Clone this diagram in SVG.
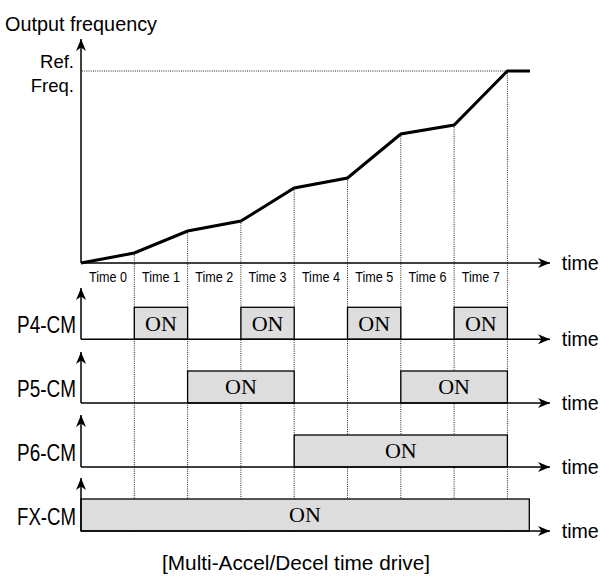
<svg xmlns="http://www.w3.org/2000/svg" width="600" height="582" viewBox="0 0 600 582">
<style>
.ax{stroke:#000;stroke-width:1.5;fill:none}
.dot{stroke:#222;stroke-width:1;stroke-dasharray:1,1.2;fill:none}
.box{fill:#dddddd;stroke:#000;stroke-width:1.3}
.on{font-family:"Liberation Serif","Times New Roman",serif;font-size:22px;fill:#000;text-anchor:middle}
.sans{font-family:"Liberation Sans",Arial,sans-serif;fill:#000}
.tl{font-size:14px;text-anchor:middle}
.sig{font-size:23px;text-anchor:end}
.tm{font-size:21px}
</style>
<defs>
<marker id="arr" markerUnits="userSpaceOnUse" markerWidth="13" markerHeight="11" refX="12" refY="5" orient="auto" viewBox="0 0 13 10">
<path d="M0,0 L12,5 L0,10 L3.5,5 Z" fill="#000"/>
</marker>
</defs>
<rect width="600" height="582" fill="#fff"/>
<g id="guides">
<line class="dot" x1="82" y1="71" x2="507" y2="71"/>
<line class="dot" x1="134.3" y1="253" x2="134.3" y2="532"/>
<line class="dot" x1="187.6" y1="231" x2="187.6" y2="532"/>
<line class="dot" x1="240.9" y1="221" x2="240.9" y2="532"/>
<line class="dot" x1="294.2" y1="188" x2="294.2" y2="532"/>
<line class="dot" x1="347.5" y1="178" x2="347.5" y2="532"/>
<line class="dot" x1="400.8" y1="134" x2="400.8" y2="532"/>
<line class="dot" x1="454.1" y1="125" x2="454.1" y2="532"/>
<line class="dot" x1="507.4" y1="71" x2="507.4" y2="532"/>
</g>
<g id="freq-chart">
<text class="sans" x="5" y="30.5" font-size="21" textLength="152" lengthAdjust="spacingAndGlyphs">Output frequency</text>
<text class="sans" x="74" y="68.3" font-size="18.5" text-anchor="end">Ref.</text>
<text class="sans" x="74" y="91.7" font-size="18.5" text-anchor="end">Freq.</text>
<polyline points="81,263 134.3,253 187.6,231 240.9,221 294.2,188 347.5,178 400.8,134 454.1,125 507.4,71 530,71" fill="none" stroke="#000" stroke-width="3" stroke-linejoin="miter"/>
<g class="sans tl">
<text x="108" y="281.7" textLength="38" lengthAdjust="spacingAndGlyphs">Time 0</text>
<text x="161" y="281.7" textLength="38" lengthAdjust="spacingAndGlyphs">Time 1</text>
<text x="214.3" y="281.7" textLength="38" lengthAdjust="spacingAndGlyphs">Time 2</text>
<text x="267.6" y="281.7" textLength="38" lengthAdjust="spacingAndGlyphs">Time 3</text>
<text x="320.9" y="281.7" textLength="38" lengthAdjust="spacingAndGlyphs">Time 4</text>
<text x="374.2" y="281.7" textLength="38" lengthAdjust="spacingAndGlyphs">Time 5</text>
<text x="427.5" y="281.7" textLength="38" lengthAdjust="spacingAndGlyphs">Time 6</text>
<text x="480.8" y="281.7" textLength="38" lengthAdjust="spacingAndGlyphs">Time 7</text>
</g>
</g>
<g id="p4">
<rect class="box" x="134.3" y="307.3" width="53.3" height="32"/>
<rect class="box" x="240.9" y="307.3" width="53.3" height="32"/>
<rect class="box" x="347.5" y="307.3" width="53.3" height="32"/>
<rect class="box" x="454.1" y="307.3" width="53.3" height="32"/>
<text class="on" x="161" y="330.5">ON</text>
<text class="on" x="267.6" y="330.5">ON</text>
<text class="on" x="374.2" y="330.5">ON</text>
<text class="on" x="480.8" y="330.5">ON</text>
<text class="sans sig" x="76" y="333.3" textLength="59" lengthAdjust="spacingAndGlyphs">P4-CM</text>
</g>
<g id="p5">
<rect class="box" x="187.6" y="371" width="106.6" height="32"/>
<rect class="box" x="400.8" y="371" width="106.6" height="32"/>
<text class="on" x="240.9" y="394.2">ON</text>
<text class="on" x="454.1" y="394.2">ON</text>
<text class="sans sig" x="76" y="397.3" textLength="59" lengthAdjust="spacingAndGlyphs">P5-CM</text>
</g>
<g id="p6">
<rect class="box" x="294.2" y="435" width="213.2" height="32"/>
<text class="on" x="400.8" y="458.2">ON</text>
<text class="sans sig" x="76" y="461.3" textLength="59" lengthAdjust="spacingAndGlyphs">P6-CM</text>
</g>
<g id="fx">
<rect class="box" x="81" y="499" width="448.3" height="32"/>
<text class="on" x="305" y="522.2">ON</text>
<text class="sans sig" x="76" y="525.3" textLength="59" lengthAdjust="spacingAndGlyphs">FX-CM</text>
</g>
<g id="axes">
<path class="ax" d="M81,263 V39" marker-end="url(#arr)"/>
<path class="ax" d="M81,263 H550" marker-end="url(#arr)"/>
<path class="ax" d="M81,339.3 V288" marker-end="url(#arr)"/>
<path class="ax" d="M81,339.3 H550" marker-end="url(#arr)"/>
<path class="ax" d="M81,403 V352" marker-end="url(#arr)"/>
<path class="ax" d="M81,403 H550" marker-end="url(#arr)"/>
<path class="ax" d="M81,467 V415" marker-end="url(#arr)"/>
<path class="ax" d="M81,467 H550" marker-end="url(#arr)"/>
<path class="ax" d="M81,531 V478" marker-end="url(#arr)"/>
<path class="ax" d="M81,531 H550" marker-end="url(#arr)"/>
</g>
<g id="time-labels" class="sans tm">
<text x="561.7" y="270" textLength="37" lengthAdjust="spacingAndGlyphs">time</text>
<text x="561.7" y="345.5" textLength="37" lengthAdjust="spacingAndGlyphs">time</text>
<text x="561.7" y="409.5" textLength="37" lengthAdjust="spacingAndGlyphs">time</text>
<text x="561.7" y="473.5" textLength="37" lengthAdjust="spacingAndGlyphs">time</text>
<text x="561.7" y="537.5" textLength="37" lengthAdjust="spacingAndGlyphs">time</text>
</g>
<text id="caption" class="sans" x="296" y="570" font-size="21" text-anchor="middle" textLength="268" lengthAdjust="spacingAndGlyphs">[Multi-Accel/Decel time drive]</text>
</svg>
